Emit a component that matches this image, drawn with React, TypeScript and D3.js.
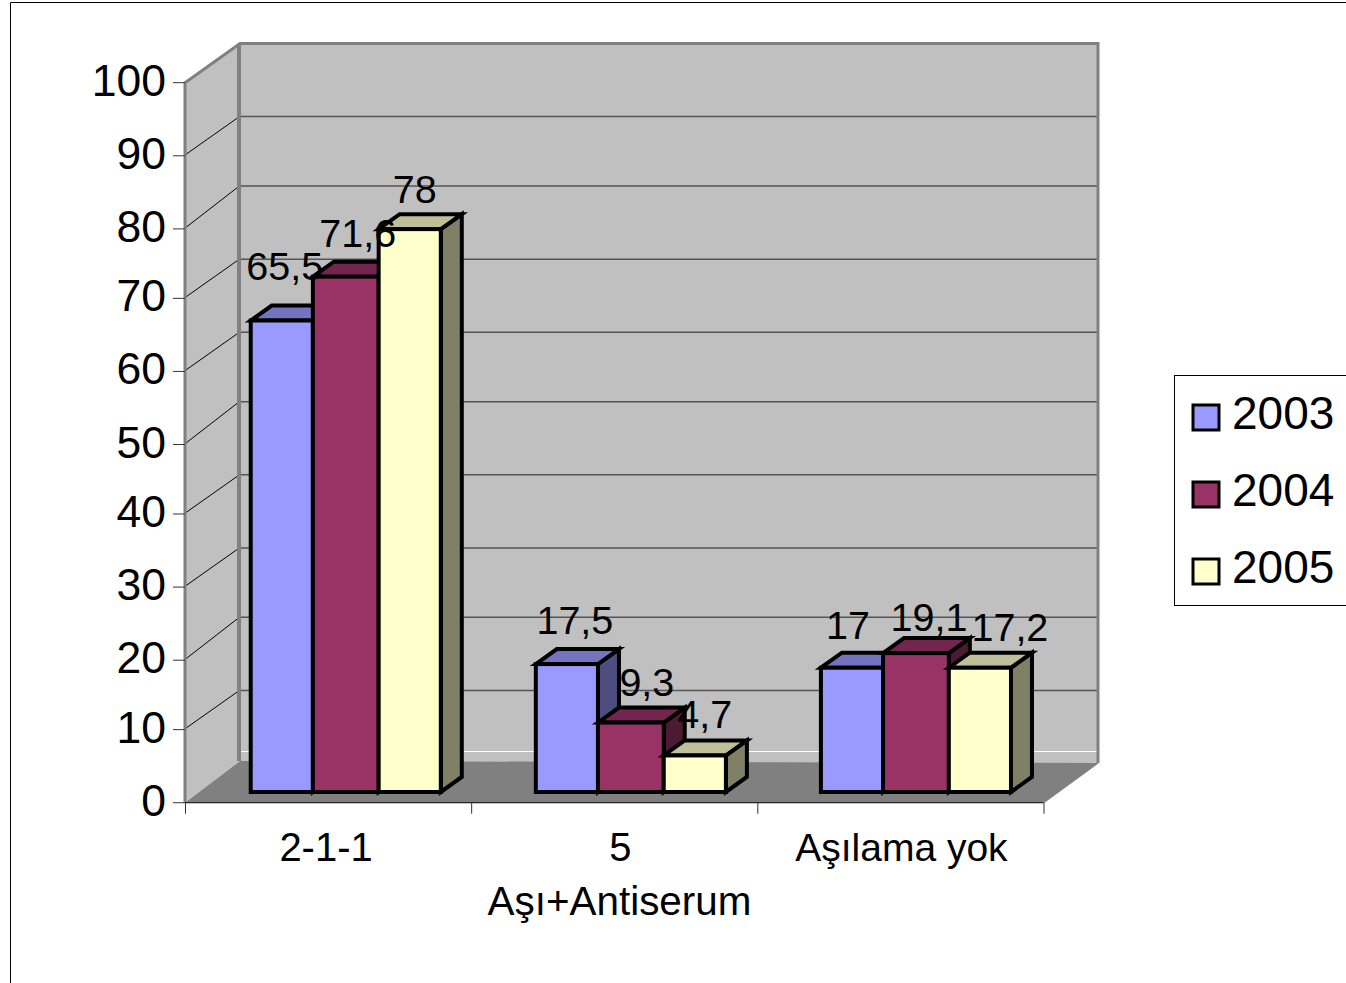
import React from "react";
import * as d3 from "d3";

const categories = ["2-1-1", "5", "Aşılama yok"];
const seriesNames = ["2003", "2004", "2005"];
const values2003 = [65.5, 17.5, 17];
const values2004 = [71.6, 9.3, 19.1];
const values2005 = [78, 4.7, 17.2];
const valueLabels2003 = ["65,5", "17,5", "17"];
const valueLabels2004 = ["71,6", "9,3", "19,1"];
const valueLabels2005 = ["78", "4,7", "17,2"];
const yTicks = d3.range(0, 101, 10);
const axisTitle = "Aşı+Antiserum";

const seriesValues = [values2003, values2004, values2005];
const seriesLabels = [valueLabels2003, valueLabels2004, valueLabels2005];
const fills = ["#9999ff", "#993366", "#ffffcc"];

// layout tuning: pixel nudges of the data labels (category x series) and category labels
const labelNudge = [
  [[3, -41], [12, -30], [5, -26]],
  [[8, -30], [16, -27], [10, -27]],
  [[-4, -29], [13, -22], [30, -27]],
];
const catLabelNudge = [-2, 6, 1];

const FONT = "'Liberation Sans', Arial, sans-serif";
// The reference is an upscaled low-resolution raster: one source pixel = CELL screen px.
const CELL = 3.655;
const x0 = 185, x1 = 1043.5, xBack0 = 240, xBack1 = 1098;
const yFrontTop = 82.7, yBackTop = 43.5;
const BX = 21, BY = -15;
const barBaseY = 792;

// value -> source pixels from the top of the plot
const rows = d3.scaleLinear().domain([100, 0]).range([0, 197]);
const yFront = (v: number) => yFrontTop + Math.round(rows(v) + 0.15) * CELL;
const yBack = (v: number) => yBackTop + Math.round(rows(v) - 0.15) * CELL;
const barH = (v: number) => Math.round((rows(0) - rows(v)) + 0.4) * CELL;

const xCat = d3.scaleBand<string>().domain(categories).range([x0, x1]);
const groupCols = d3.scalePoint<string>().domain(categories).range([68.6, 224.6]);
const barCols = d3.scaleLinear().domain([0, 3]).range([0, 52]);
const barX = (c: string, i: number) => (groupCols(c)! + Math.round(barCols(i))) * CELL;

const yFloorFront = yFront(0), yFloorBack = 761;
const pts = (p: number[][]) => p.map((q) => q.join(",")).join(" ");

export default function App() {
  const bw = xCat.bandwidth();
  const tickXs = [...categories.map((c) => xCat(c) as number), x1];
  return (
    <svg width={1346} height={983} style={{ position: "absolute", left: 0, top: 0, background: "#fff" }} fontFamily={FONT}>
      <path d="M10.5,983V2.5H1346" fill="none" stroke="#000" strokeWidth={1} />

      {/* walls */}
      <polygon points={pts([[x0, yFrontTop], [xBack0, yBackTop], [xBack0, yFloorBack], [x0, yFloorFront]])} fill="#c0c0c0" />
      <polygon points={pts([[xBack0, yBackTop], [xBack1, yBackTop], [xBack1, yFloorBack + 2], [xBack0, yFloorBack + 2]])} fill="#c0c0c0" />
      <line x1={xBack0} x2={xBack1} y1={751.5} y2={751.5} stroke="#fff" strokeWidth={1} />
      <polygon points={pts([[x0, yFloorFront], [xBack0, yFloorBack], [xBack1, yFloorBack + 2], [x1, yFloorFront]])} fill="#808080" />

      {/* gridlines */}
      {yTicks.filter((t) => t > 0 && t < 100).map((t) => (
        <g key={t} fill="none">
          <line x1={x0 + 1} y1={yFront(t) - 1.5} x2={xBack0 - 2} y2={yBack(t) + 1} stroke="#000" strokeWidth={1} />
          <line x1={xBack0} y1={yBack(t)} x2={xBack1} y2={yBack(t)} stroke="#555" strokeWidth={1.5} />
        </g>
      ))}

      {/* wall outlines */}
      <path d={`M${x0},${yFloorFront}V${yFrontTop}L${xBack0},${yBackTop}H${xBack1}V${yFloorBack + 2}`} fill="none" stroke="#808080" strokeWidth={3} />
      <path d={`M${xBack0 - 1},${yBackTop}V${yFloorBack}`} fill="none" stroke="#808080" strokeWidth={4} />
      <path d={`M${xBack1},${yFloorBack + 2}L${x1},${yFloorFront}`} fill="none" stroke="#808080" strokeWidth={1.5} />

      {/* axes */}
      <line x1={x0} x2={x1} y1={yFloorFront} y2={yFloorFront} stroke="#000" strokeWidth={1} />
      {yTicks.map((t) => (
        <g key={t}>
          <line x1={x0 - 12} x2={x0} y1={yFront(t)} y2={yFront(t)} stroke="#333" strokeWidth={1} />
          <text x={166} y={yFront(t) + 13} textAnchor="end" fontSize={44.5}>{t}</text>
        </g>
      ))}
      {tickXs.map((x, i) => (
        <line key={i} x1={x + 0.5} x2={x + 0.5} y1={yFloorFront} y2={yFloorFront + 11} stroke="#333" strokeWidth={1} />
      ))}
      {categories.map((c, i) => (
        <text key={c} x={(xCat(c) as number) + bw / 2 + catLabelNudge[i]} y={861} textAnchor="middle" fontSize={i === 2 ? 39 : 40}>{c}</text>
      ))}
      <text x={619.5} y={915} textAnchor="middle" fontSize={40.4}>{axisTitle}</text>

      {/* bars */}
      {categories.map((c) => (
        <g key={c} stroke="#000" strokeWidth={4} strokeLinejoin="miter">
          {seriesNames.map((s, si) => {
            const ci = categories.indexOf(c);
            const v = seriesValues[si][ci];
            const l = barX(c, si);
            const r = barX(c, si + 1);
            const b = barBaseY;
            const t = b - barH(v);
            const col = d3.color(fills[si]) as d3.RGBColor;
            const top = d3.rgb(col.r * 0.75, col.g * 0.75, col.b * 0.75).formatHex();
            const side = d3.rgb(col.r * 0.5, col.g * 0.5, col.b * 0.5).formatHex();
            return (
              <g key={s}>
                <polygon points={pts([[r, b], [r + BX, b + BY], [r + BX, t + BY], [r, t]])} fill={side} />
                <polygon points={pts([[l, t], [l + BX, t + BY], [r + BX, t + BY], [r, t]])} fill={top} />
                <rect x={l} y={t} width={r - l} height={b - t} fill={fills[si]} />
              </g>
            );
          })}
        </g>
      ))}

      {/* data labels */}
      {categories.map((c, ci) =>
        seriesNames.map((s, si) => {
          const [dx, dy] = labelNudge[ci][si];
          const cx = (barX(c, si) + barX(c, si + 1)) / 2;
          const top = barBaseY - barH(seriesValues[si][ci]);
          return (
            <text key={c + s} x={cx + dx} y={top + dy} textAnchor="middle" fontSize={39.5}>
              {seriesLabels[si][ci]}
            </text>
          );
        })
      )}

      {/* legend */}
      <rect x={1174.5} y={375.5} width={172} height={230} fill="#fff" stroke="#000" strokeWidth={1} />
      {seriesNames.map((s, i) => (
        <g key={s}>
          <rect x={1193} y={405 + i * 77} width={26} height={25} fill={fills[i]} stroke="#000" strokeWidth={3} />
          <text x={1232} y={428.5 + i * 77} fontSize={46}>{s}</text>
        </g>
      ))}
    </svg>
  );
}
